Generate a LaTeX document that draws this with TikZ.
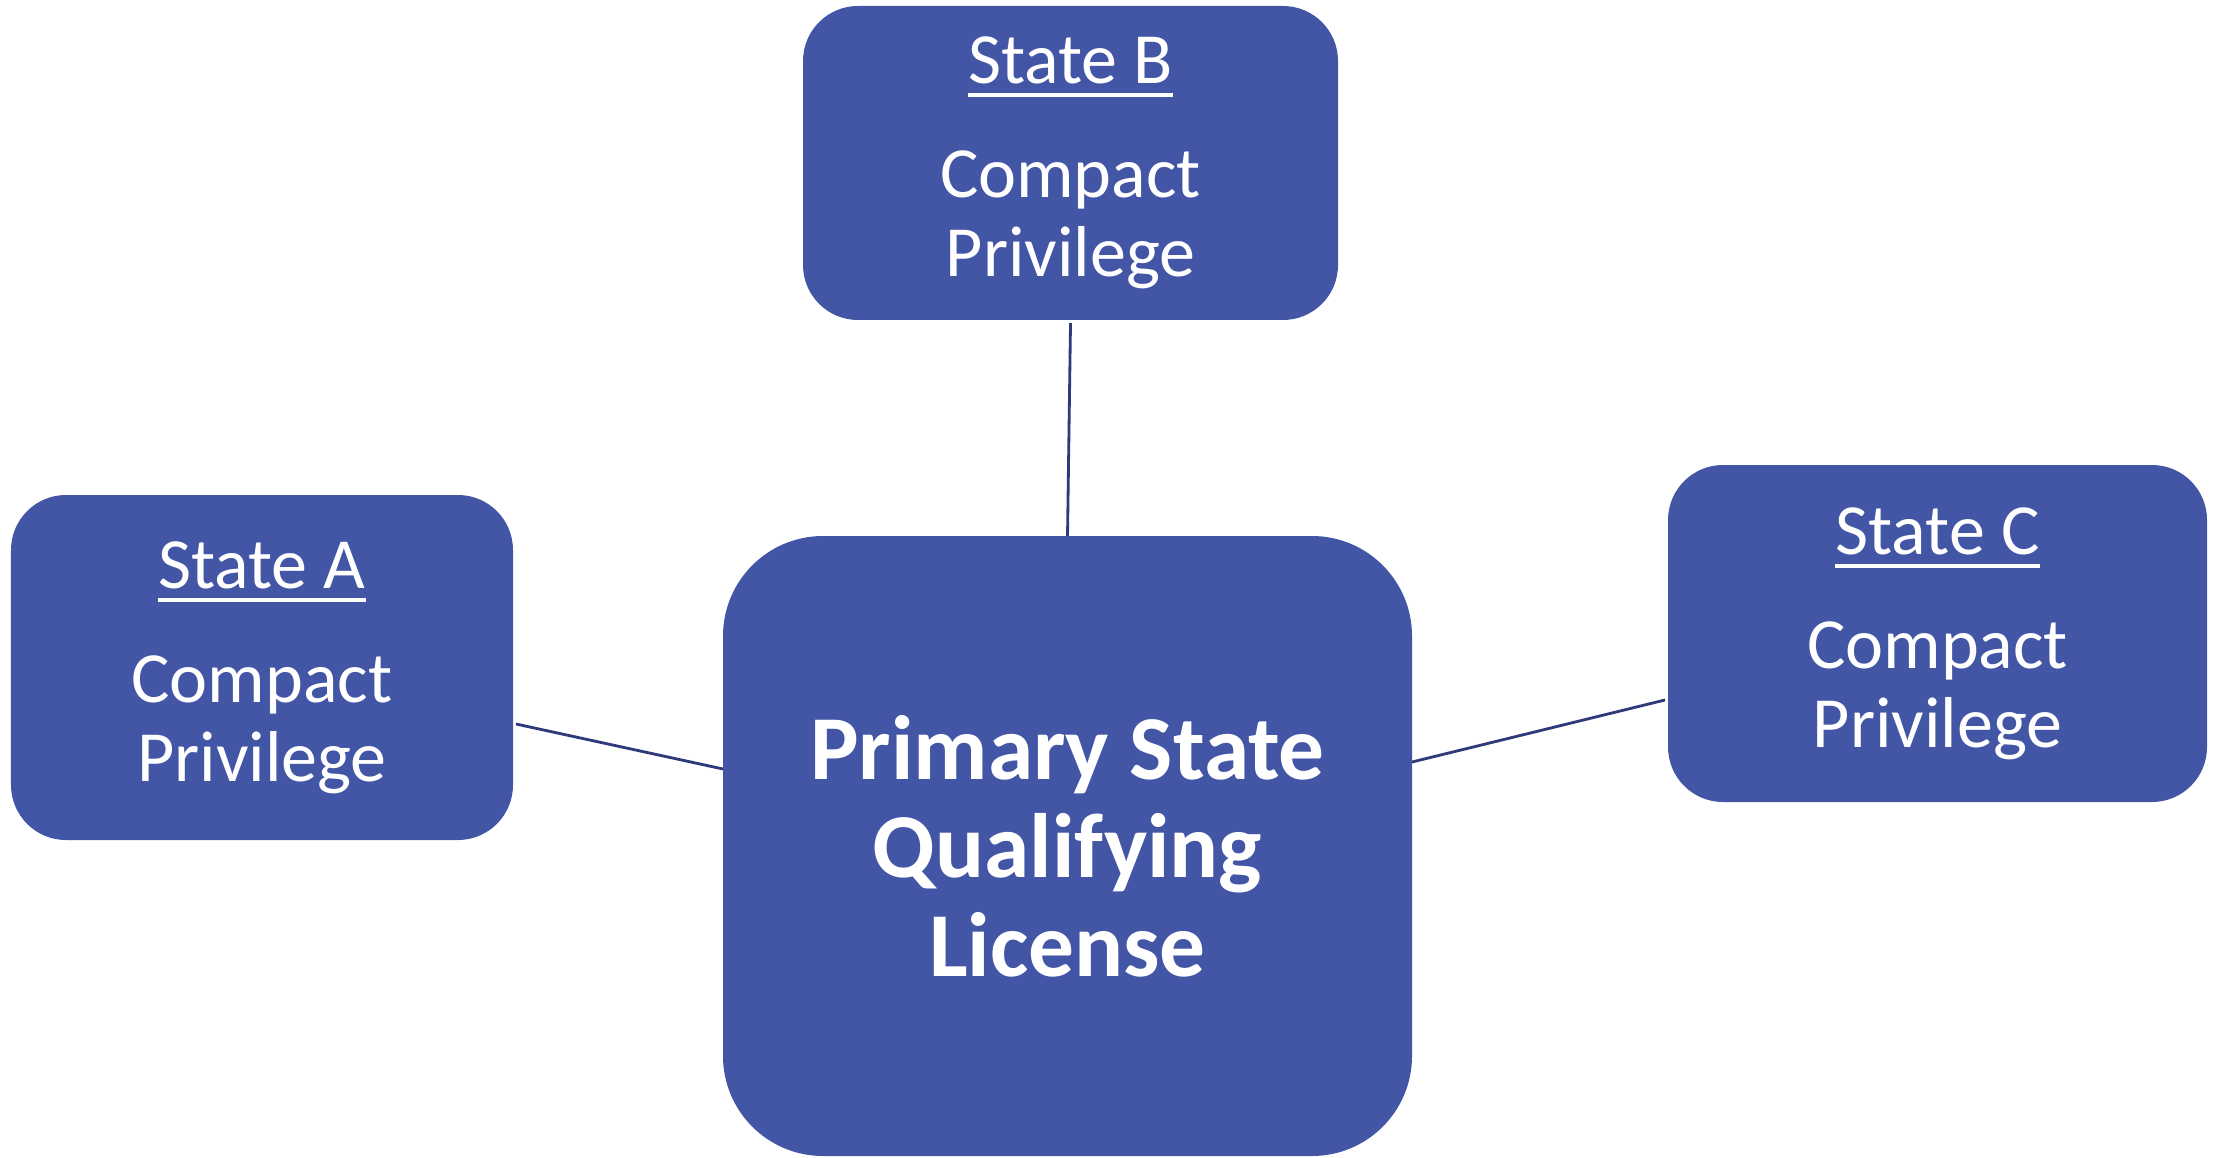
\documentclass[tikz,border=0pt]{standalone}
\usepackage{fontspec}
\setmainfont{Carlito}
\usepackage{tikz}
\usetikzlibrary{
	calc,
	positioning,
}
\definecolor{boxblue}{RGB}{67,86,166}
\definecolor{linknavy}{RGB}{46,58,122}
\newcommand{\ulstate}[1]{\setbox0=\hbox{#1}\rlap{\rule[-3.9pt]{\wd0}{1.1pt}}\box0}
\tikzset{state box/.style={fill=boxblue,draw=none,rounded corners=0.55cm,align=center,text=white,inner sep=0pt,outer sep=0pt,font=\fontsize{20.5}{22.5}\selectfont,}}
\tikzset{main box/.style={state box,rounded corners=1cm,font=\bfseries\fontsize{26}{28}\selectfont,}}
\tikzset{link/.style={draw=linknavy,line width=0.8pt,}}

\begin{document}
\begin{tikzpicture}

\useasboundingbox (0,0) rectangle (22.18,11.57);

\foreach \n/\s/\x/\y/\w/\h in {a/A/2.62/4.895/5.02/3.45,b/B/10.705/9.94/5.35/3.14,c/C/19.375/5.235/5.39/3.37}{
	\node[state box,minimum width=\w cm,minimum height=\h cm](\n) at(\x,\y){\ulstate{State \s}\\[10pt]Compact\\Privilege};
}

\node[main box,minimum width=6.89cm,minimum height=6.2cm](main) at(10.675,3.11){Primary State\\Qualifying\\License};

\draw[link] ([yshift=-0.03cm]b.south) -- (main.north);
\draw[link] ([xshift=0.03cm,yshift=-0.565cm]a.east) -- ([yshift=0.77cm]main.west);
\draw[link] ([yshift=0.84cm]main.east) -- ([xshift=-0.03cm,yshift=-0.665cm]c.west);

\end{tikzpicture}
\end{document}
